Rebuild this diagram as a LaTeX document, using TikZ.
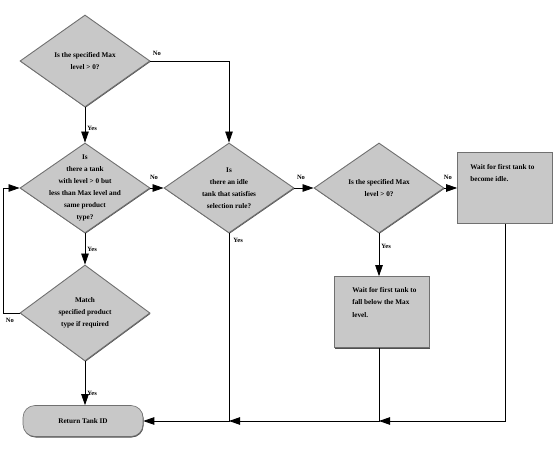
\documentclass[tikz,border=0pt]{standalone}
\usepackage{fontspec}
\setmainfont{Liberation Serif}
\usetikzlibrary{arrows.meta,positioning,shapes.geometric,shadows}
\definecolor{FlowGray}{HTML}{C8C8C8}
\definecolor{FlowEdge}{HTML}{707070}
\definecolor{FlowShade}{HTML}{505050}

\begin{document}
\begin{tikzpicture}[x=1pt, y=-1pt,
    decision/.style={diamond, draw=FlowEdge, line width=0.9pt, fill=FlowGray, minimum width=130pt,
      minimum height=90pt, inner sep=0pt,
      drop shadow={shadow xshift=0.6pt, shadow yshift=-0.8pt, fill=FlowShade, opacity=1}},
    waitbox/.style={rectangle, draw=FlowEdge, line width=0.6pt, fill=FlowGray, minimum width=95pt,
      minimum height=71pt, inner sep=0pt,
      drop shadow={shadow xshift=0.8pt, shadow yshift=-1pt, fill=FlowShade, opacity=1}},
    terminal/.style={rectangle, rounded corners=12pt, draw=FlowEdge, line width=0.6pt, fill=FlowGray,
      minimum width=120pt, minimum height=31pt, font=\fontsize{7.2}{9}\selectfont\bfseries,
      drop shadow={shadow xshift=0.6pt, shadow yshift=-1pt, fill=FlowShade, opacity=1}},
    qtext/.style={font=\fontsize{7.2}{12}\selectfont\bfseries, align=center, inner sep=0pt},
    boxtext/.style={font=\fontsize{7.2}{12.3}\selectfont\bfseries, align=left, inner sep=0pt, anchor=north west},
    tag/.style={font=\fontsize{6.5}{8}\selectfont\bfseries, inner sep=2pt},
    arrow/.style={-{Triangle[length=11pt,width=7.5pt]}, line width=0.8pt, color=black}
  ]
    \useasboundingbox (0,0) rectangle (554,454);
    % decisions
    \node[decision, minimum height=92pt, label={[qtext]center:{Is the specified Max\\level > 0?}}] (maxchk) at (85,61) {};
    \node[decision, label={[qtext]center:{Is\\there a tank\\with level > 0 but\\less than Max level and\\same product\\type?}}] (partial) at (85,188) {};
    \node[decision, minimum height=96pt, label={[qtext]center:{Match\\specified product\\type if required}}] (match) at (85,313) {};
    \node[decision, label={[qtext]center:{Is\\there an idle\\tank that satisfies\\selection rule?}}] (idle) at (229,188) {};
    \node[decision, label={[qtext]center:{Is the specified Max\\level > 0?}}] (maxchk2) at (379,188) {};
    % waiting boxes and result
    \node[waitbox, label={[boxtext, xshift=13pt, yshift=-12pt]north west:{Wait for first tank to\\become idle.}}] (waitidle) at (505,188) {};
    \node[waitbox, label={[boxtext, xshift=18pt, yshift=-11pt]north west:{Wait for first tank to\\fall below the Max\\level.}}] (waitfall) at (382,312) {};
    \node[terminal] (tankid) at (83,421) {Return Tank ID};
    % connectors
    \draw[arrow] (maxchk) -- node[tag, right, yshift=-3pt]{Yes} (partial);
    \draw[arrow] (maxchk.east) node[tag, above right, yshift=3pt]{No} -| (idle.north);
    \draw[arrow] (partial) -- node[tag, above, xshift=-3pt, yshift=6pt]{No} (idle);
    \draw[arrow] (idle) -- node[tag, above, xshift=-3pt, yshift=6pt]{No} (maxchk2);
    \draw[arrow] (maxchk2) -- node[tag, above, xshift=-3pt, yshift=6pt]{No} (waitidle);
    \draw[arrow] (maxchk2.south) -- node[tag, right, pos=0.3]{Yes} (maxchk2.south |- waitfall.north);
    \draw[arrow] (partial) -- node[tag, right]{Yes} (match);
    \draw[arrow] (match.south) -- node[tag, right, pos=0.72]{Yes} (match.south |- tankid.north);
    \draw[arrow] (match.west) -- ++(-16,0) coordinate (loopcorner) node[tag, below right, yshift=-3pt]{No} |- (partial.west);
    \draw[arrow] (idle.south) node[tag, below right, xshift=2pt, yshift=-2pt]{Yes} |- (tankid.east);
    \draw[arrow] (maxchk2.south |- waitfall.south) |- (idle.south |- tankid);
    \draw[arrow] (waitidle.south) |- (maxchk2.south |- tankid);
  \end{tikzpicture}
\end{document}
